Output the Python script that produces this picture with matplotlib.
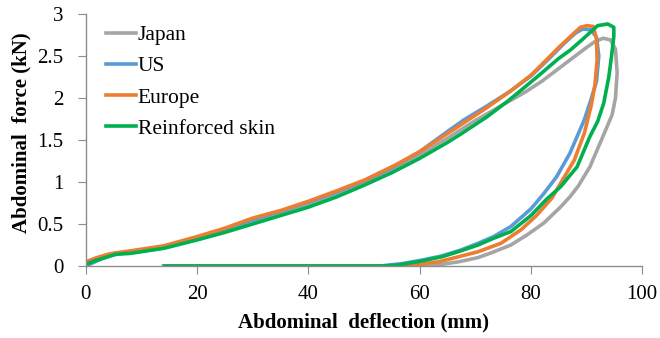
import numpy as np
import matplotlib.pyplot as plt

# =============================
# Data
# =============================

japan_x = [0, 2, 4, 6, 10, 14, 20, 25, 30, 35, 40, 45, 50, 55, 60, 65, 70, 75, 79, 82, 85, 88, 90,
           91.5, 93, 94.3, 95.2, 95.5, 95.2, 94.6, 93, 90.6, 88.5, 87.1, 85.3, 82.3, 79.3, 76.4, 73,
           70.5, 67, 62, 55, 14]
japan_y = [0.02, 0.07, 0.12, 0.145, 0.18, 0.22, 0.32, 0.41, 0.51, 0.61, 0.72, 0.85, 0.99, 1.15, 1.32,
           1.52, 1.73, 1.92, 2.07, 2.2, 2.35, 2.5, 2.6, 2.67, 2.71, 2.69, 2.58, 2.3, 2.0, 1.8, 1.55,
           1.18, 0.95, 0.83, 0.70, 0.51, 0.37, 0.25, 0.16, 0.10, 0.05, 0.0, 0.0, 0.0]

us_x = [0, 2, 4, 6, 10, 14, 20, 25, 30, 35, 40, 45, 50, 55.6, 60, 65, 68, 72, 76.3, 80, 83, 86, 88,
        89.3, 90.8, 91.8, 92.2, 91.8, 90.8, 89.6, 87, 84.6, 82.3, 80, 76.4, 73.3, 70.5, 67.4, 64,
        60.4, 57, 53, 14]
us_y = [0.0, 0.06, 0.12, 0.15, 0.19, 0.23, 0.34, 0.44, 0.55, 0.65, 0.76, 0.88, 1.01, 1.19, 1.36,
        1.6, 1.74, 1.9, 2.08, 2.26, 2.45, 2.65, 2.77, 2.82, 2.81, 2.72, 2.5, 2.2, 1.98, 1.74, 1.34,
        1.06, 0.86, 0.68, 0.47, 0.35, 0.27, 0.19, 0.12, 0.07, 0.03, 0.0, 0.0]

europe_x = [0, 2, 4, 5.2, 8, 10, 14, 20, 25, 30, 35, 40, 44.5, 50, 55.6, 60, 67.4, 72, 76.3, 80,
            82.3, 85, 87.1, 88.9, 90.1, 91.2, 91.8, 91.9, 91.5, 90.8, 89.6, 87.8, 85.3, 83.8, 81,
            78.2, 74.6, 70.5, 67, 63.4, 60, 58, 14]
europe_y = [0.05, 0.1, 0.14, 0.155, 0.18, 0.2, 0.24, 0.35, 0.45, 0.57, 0.66, 0.77, 0.88, 1.02, 1.2,
            1.36, 1.68, 1.88, 2.08, 2.27, 2.42, 2.6, 2.73, 2.84, 2.86, 2.85, 2.7, 2.45, 2.15, 1.9,
            1.58, 1.26, 0.98, 0.81, 0.6, 0.43, 0.27, 0.17, 0.11, 0.05, 0.02, 0.0, 0.0]

skin_x = [0, 2, 4, 5.4, 8, 10, 14, 20, 25, 30, 35, 40, 45, 50, 55, 60, 65, 67.4, 72, 76, 79.3, 82,
          85, 87.1, 89, 91, 92, 93.8, 94.9, 94.9, 94.5, 94, 93.1, 92, 90.6, 88.3, 85.3, 82.9, 80,
          76.4, 73.3, 70.5, 67.4, 64, 60.4, 56, 53, 14.2]
skin_y = [0.02, 0.07, 0.11, 0.14, 0.15, 0.17, 0.21, 0.31, 0.4, 0.5, 0.6, 0.7, 0.82, 0.96, 1.11,
          1.28, 1.47, 1.57, 1.77, 1.97, 2.15, 2.3, 2.47, 2.57, 2.68, 2.8, 2.86, 2.88, 2.84, 2.73,
          2.5, 2.25, 1.94, 1.72, 1.54, 1.18, 0.94, 0.80, 0.6, 0.41, 0.33, 0.25, 0.18, 0.11, 0.06,
          0.01, 0.0, 0.0]

series = [
    ("Japan", japan_x, japan_y, "#A5A5A5"),
    ("US", us_x, us_y, "#5B9BD5"),
    ("Europe", europe_x, europe_y, "#ED7D31"),
    ("Reinforced skin", skin_x, skin_y, "#00B050"),
]

# =============================
# Plot
# =============================

plt.rcParams["font.family"] = ["Liberation Serif", "DejaVu Serif"]

fig = plt.figure(figsize=(6.6, 3.38), dpi=100)
ax = fig.add_axes([0.13, 0.213, 0.843, 0.746])

for name, xs, ys, col in series:
    ax.plot(xs, ys, color=col, lw=2.6, label=name, solid_joinstyle="round")

ax.set_xlim(0, 100)
ax.set_ylim(0, 3)
ax.set_xticks(np.arange(0, 101, 20))
ax.set_yticks(np.arange(0, 3.01, 0.5))
ax.set_yticklabels(["0", "0.5", "1", "1.5", "2", "2.5", "3"])

for side in ["top", "right"]:
    ax.spines[side].set_visible(False)
for side in ["left", "bottom"]:
    ax.spines[side].set_color("#8C8C8C")
    ax.spines[side].set_linewidth(1.0)

ax.tick_params(direction="out", length=6, color="#8C8C8C", labelsize=15)
ax.tick_params(axis="x", pad=8)
ax.tick_params(axis="y", pad=10)

ax.set_xlabel("Abdominal  deflection (mm)", fontsize=15, fontweight="bold", labelpad=6)
ax.set_ylabel("Abdominal  force (kN)", fontsize=15, fontweight="bold")
ax.yaxis.set_label_coords(-0.098, 0.53)

ax.legend(loc="upper left", bbox_to_anchor=(0.02, 0.99), frameon=False, fontsize=15.5,
          handlelength=1.4, handletextpad=0.1, labelspacing=0.52, borderaxespad=0)

fig.savefig("out.png", dpi=100)
